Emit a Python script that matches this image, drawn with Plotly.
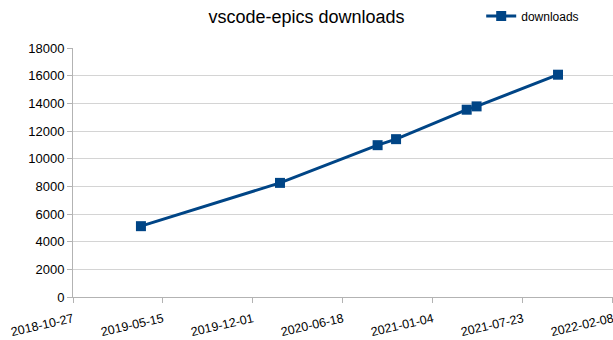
import plotly.graph_objects as go

dates = ["2019-03-27", "2020-01-30", "2020-09-03", "2020-10-14", "2021-03-20", "2021-04-11", "2021-10-09"]
downloads = [5120, 8250, 10975, 11410, 13540, 13780, 16070]
x_ticks = ["2018-10-27", "2019-05-15", "2019-12-01", "2020-06-18", "2021-01-04", "2021-07-23", "2022-02-08"]
y_ticks = [0, 2000, 4000, 6000, 8000, 10000, 12000, 14000, 16000, 18000]

font = "Liberation Sans, Arial, sans-serif"
blue = "#004586"

fig = go.Figure()
fig.add_trace(go.Scatter(
    x=dates, y=downloads, mode="lines+markers", name="downloads",
    line=dict(color=blue, width=3),
    marker=dict(symbol="square", size=10, color=blue),
))

fig.update_layout(
    width=613, height=340,
    margin=dict(l=73, r=0, t=48, b=43, autoexpand=False),
    paper_bgcolor="white", plot_bgcolor="white",
    font=dict(family=font, size=13, color="#000000"),
    title=dict(text="vscode-epics downloads", x=0.5, xref="container", xanchor="center",
               y=0.95, yref="container", yanchor="middle",
               font=dict(family=font, size=18, color="#000000")),
    showlegend=True,
    legend=dict(x=0.785, y=0.953, xanchor="left", yanchor="middle", xref="container", yref="container",
                font=dict(family=font, size=12, color="#000000"),
                bgcolor="rgba(0,0,0,0)", itemwidth=30),
    xaxis=dict(
        type="date", range=[x_ticks[0], x_ticks[-1] + " 04:00"],
        tickvals=x_ticks, ticktext=x_ticks, tickangle=-13,
        ticklabeloverflow="allow", ticklabelstandoff=4,
        showgrid=False, showline=True, linecolor="#b3b3b3", linewidth=1,
        ticks="outside", ticklen=5, tickcolor="#b3b3b3",
        tickfont=dict(family=font, size=12.5, color="#000000"),
        zeroline=False, automargin=False,
    ),
    yaxis=dict(
        range=[0, 18000], tickvals=y_ticks, ticktext=[str(v) for v in y_ticks],
        showgrid=True, gridcolor="#d4d4d4", gridwidth=1,
        showline=True, linecolor="#b3b3b3", linewidth=1,
        ticks="outside", ticklen=5, tickcolor="#b3b3b3",
        tickfont=dict(family=font, size=13, color="#000000"),
        zeroline=False, automargin=False,
    ),
)

fig.write_html("out.html")
